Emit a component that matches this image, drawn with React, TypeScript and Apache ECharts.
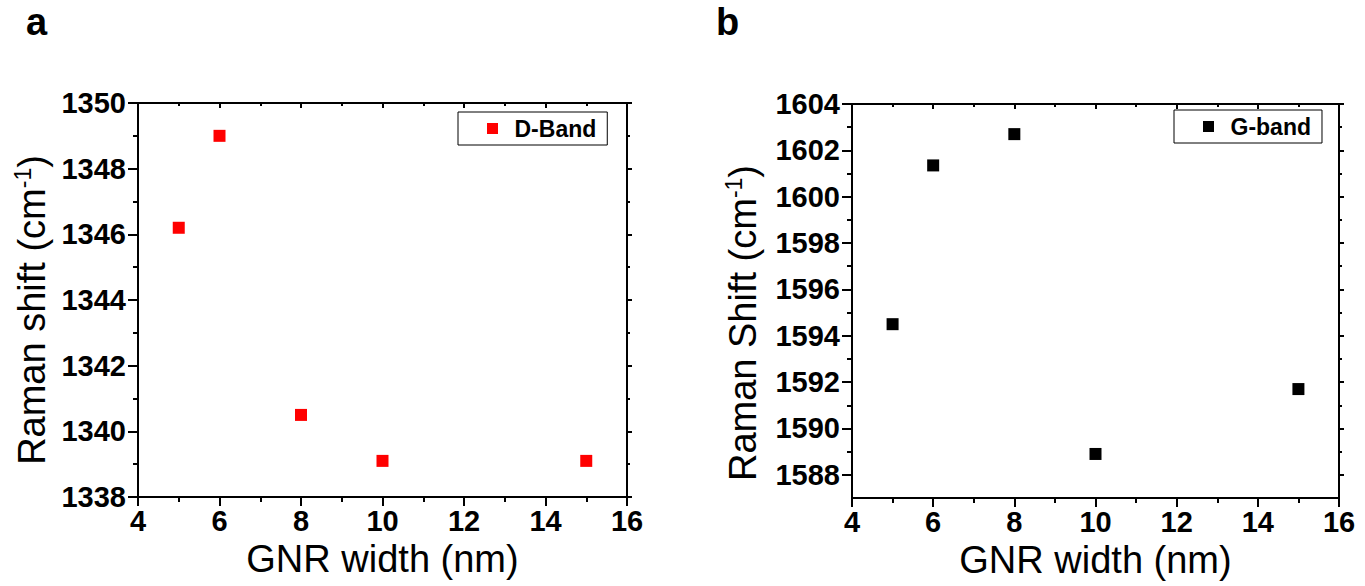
import React, { useEffect, useRef } from 'react';
import * as echarts from 'echarts';

const FONT = '"Liberation Sans", Arial, Helvetica, sans-serif';

// GNR widths (nm)
const widths = [5, 6, 8, 10, 15];
// Raman shift values (cm^-1)
const dBand = [1346.2, 1349.0, 1340.5, 1339.1, 1339.1];
const gBand = [1594.5, 1601.35, 1602.7, 1588.9, 1591.7];

// tick positions for the G-band y axis
const gMajor = [1588, 1590, 1592, 1594, 1596, 1598, 1600, 1602, 1604];
const gMinor = [1589, 1591, 1593, 1595, 1597, 1599, 1601, 1603];

const BLACK = '#000';
const SQUARE = 'path://M0,0L10,0L10,10L0,10Z';
const line = { show: true, onZero: false, lineStyle: { color: BLACK, width: 2 } };
const plain = (v: number) => String(v);
const tickLabel = { fontSize: 29, fontWeight: 'bold' as const, color: BLACK, fontFamily: FONT, formatter: plain };
const nameStyle = (shift: number) => ({
  fontSize: 38,
  color: BLACK,
  fontFamily: FONT,
  lineHeight: 42,
  padding: [0, shift, 0, 0],
  rich: {
    sup: { fontSize: 23, lineHeight: 23, verticalAlign: 'top' as const, fontFamily: FONT, color: BLACK },
  },
});

function bottomX(gridIndex: number) {
  return {
    type: 'value', gridIndex, position: 'bottom', min: 4, max: 16, interval: 2,
    axisLine: line,
    axisTick: { show: true, inside: false, length: 9, lineStyle: { color: BLACK, width: 2 } },
    minorTick: { show: true, splitNumber: 2, length: 5, lineStyle: { color: BLACK, width: 2 } },
    axisLabel: { ...tickLabel, margin: 9 },
    splitLine: { show: false }, minorSplitLine: { show: false },
    name: 'GNR width (nm)', nameLocation: 'middle', nameGap: 43,
    nameTextStyle: { fontSize: 38, color: BLACK, fontFamily: FONT },
  };
}
function topX(gridIndex: number) {
  return {
    type: 'value', gridIndex, position: 'top', min: 4, max: 16, interval: 2,
    axisLine: line,
    axisTick: { show: true, inside: true, length: 5, lineStyle: { color: BLACK, width: 2 } },
    minorTick: { show: true, splitNumber: 2, length: 3, lineStyle: { color: BLACK, width: 2 } },
    axisLabel: { show: false },
    splitLine: { show: false }, minorSplitLine: { show: false },
  };
}

const legendBase = {
  icon: SQUARE, itemWidth: 34, itemHeight: 11,
  borderColor: BLACK, borderWidth: 1, padding: [5, 11, 5, 29], symbolKeepAspect: true,
  textStyle: { fontSize: 23, fontWeight: 'bold', color: BLACK, fontFamily: FONT },
};

const option: any = {
  animation: false,
  backgroundColor: '#fff',
  grid: [
    { left: 138, top: 103, width: 489, height: 394 },
    { left: 852, top: 104, width: 487, height: 394 },
  ],
  xAxis: [bottomX(0), topX(0), bottomX(1), topX(1)],
  yAxis: [
    {
      type: 'value', gridIndex: 0, position: 'left', min: 1338, max: 1350, interval: 2,
      axisLine: line,
      axisTick: { show: true, length: 10, lineStyle: { color: BLACK, width: 2 } },
      minorTick: { show: true, splitNumber: 2, length: 5, lineStyle: { color: BLACK, width: 2 } },
      axisLabel: { ...tickLabel, margin: 12 },
      splitLine: { show: false }, minorSplitLine: { show: false },
      name: 'Raman shift (cm{sup|-1})', nameLocation: 'middle', nameGap: 85,
      nameTextStyle: nameStyle(20),
    },
    {
      type: 'value', gridIndex: 0, position: 'right', min: 1338, max: 1350, interval: 2,
      axisLine: line,
      axisTick: { show: true, length: 5, lineStyle: { color: BLACK, width: 2 } },
      minorTick: { show: true, splitNumber: 2, length: 3, lineStyle: { color: BLACK, width: 2 } },
      axisLabel: { show: false },
      splitLine: { show: false }, minorSplitLine: { show: false },
    },
    {
      type: 'value', gridIndex: 1, position: 'left', min: 1587, max: 1604,
      axisLine: line,
      axisTick: { show: true, length: 10, customValues: gMajor, lineStyle: { color: BLACK, width: 2 } },
      axisLabel: { ...tickLabel, margin: 12, customValues: gMajor },
      splitLine: { show: false },
      name: 'Raman Shift (cm{sup|-1})', nameLocation: 'middle', nameGap: 88,
      nameTextStyle: nameStyle(44),
    },
    {
      type: 'value', gridIndex: 1, position: 'left', min: 1587, max: 1604,
      axisLine: { show: false },
      axisTick: { show: true, length: 5, customValues: gMinor, lineStyle: { color: BLACK, width: 2 } },
      axisLabel: { show: false },
      splitLine: { show: false },
    },
    {
      type: 'value', gridIndex: 1, position: 'right', min: 1587, max: 1604,
      axisLine: line,
      axisTick: { show: true, length: 5, customValues: gMajor, lineStyle: { color: BLACK, width: 2 } },
      axisLabel: { show: false },
      splitLine: { show: false },
    },
    {
      type: 'value', gridIndex: 1, position: 'right', min: 1587, max: 1604,
      axisLine: { show: false },
      axisTick: { show: true, length: 3, customValues: gMinor, lineStyle: { color: BLACK, width: 2 } },
      axisLabel: { show: false },
      splitLine: { show: false },
    },
  ],
  legend: [
    { ...legendBase, data: ['D-Band'], left: 458, top: 112 },
    { ...legendBase, data: ['G-band'], left: 1174, top: 110 },
  ],
  series: [
    {
      name: 'D-Band', type: 'scatter', xAxisIndex: 0, yAxisIndex: 0,
      symbol: 'rect', symbolSize: 12, itemStyle: { color: '#ff0000', opacity: 1 },
      data: widths.map((w, i) => [w, dBand[i]]),
    },
    {
      name: 'G-band', type: 'scatter', xAxisIndex: 2, yAxisIndex: 2,
      symbol: 'rect', symbolSize: 12, itemStyle: { color: BLACK, opacity: 1 },
      data: widths.map((w, i) => [w, gBand[i]]),
    },
  ],
  graphic: [
    { type: 'text', left: 26, top: 3, style: { text: 'a', font: `bold 38px ${FONT}`, fill: BLACK } },
    { type: 'text', left: 716, top: 3, style: { text: 'b', font: `bold 38px ${FONT}`, fill: BLACK } },
  ],
};

export default function App() {
  const ref = useRef<HTMLDivElement>(null);
  useEffect(() => {
    document.body.style.margin = '0';
    const chart = echarts.init(ref.current!, null, { renderer: 'svg' });
    chart.setOption(option);
    return () => chart.dispose();
  }, []);
  return <div ref={ref} style={{ width: 1365, height: 586 }} />;
}
